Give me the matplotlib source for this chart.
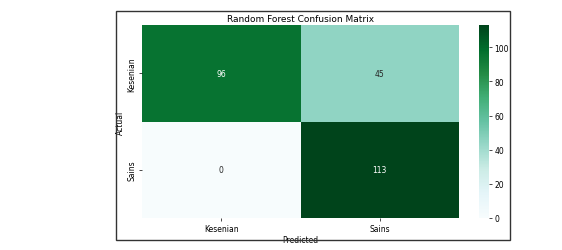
import numpy as np
import matplotlib
matplotlib.use('Agg')
import matplotlib.pyplot as plt
import seaborn as sns
from matplotlib.patches import Rectangle

# confusion matrix values
labels = ['Kesenian', 'Sains']
cm = np.array([[96, 45],
               [0, 113]])

fig = plt.figure(figsize=(5.62, 2.51), dpi=100)
W, H = 562, 251

def box(x0, y0, x1, y1):
    return [x0 / W, 1 - y1 / H, (x1 - x0) / W, (y1 - y0) / H]

# border round the embedded figure
fig.patches.append(Rectangle((116 / W, 1 - 241 / H), (510 - 116) / W, (241 - 12) / H,
                             transform=fig.transFigure, fill=False,
                             edgecolor='#333333', linewidth=1.0))

ax = fig.add_axes(box(142, 26, 459, 219))
cax = fig.add_axes(box(479, 26, 489, 219))

sns.heatmap(cm, annot=True, fmt='d', cmap='BuGn', ax=ax, cbar_ax=cax,
            xticklabels=labels, yticklabels=labels,
            annot_kws={'fontsize': 5.5})

ax.set_title('Random Forest Confusion Matrix', fontsize=6.5, pad=3)
ax.set_xlabel('Predicted', fontsize=5.5, labelpad=2)
ax.set_ylabel('Actual', fontsize=5.5, labelpad=2)
ax.tick_params(labelsize=5.5, length=2, width=0.5, pad=2)
cax.tick_params(labelsize=5.5, length=2, width=0.5, pad=2)
cax.set_yticks([0, 20, 40, 60, 80, 100])

fig.savefig('out.png', dpi=100)
